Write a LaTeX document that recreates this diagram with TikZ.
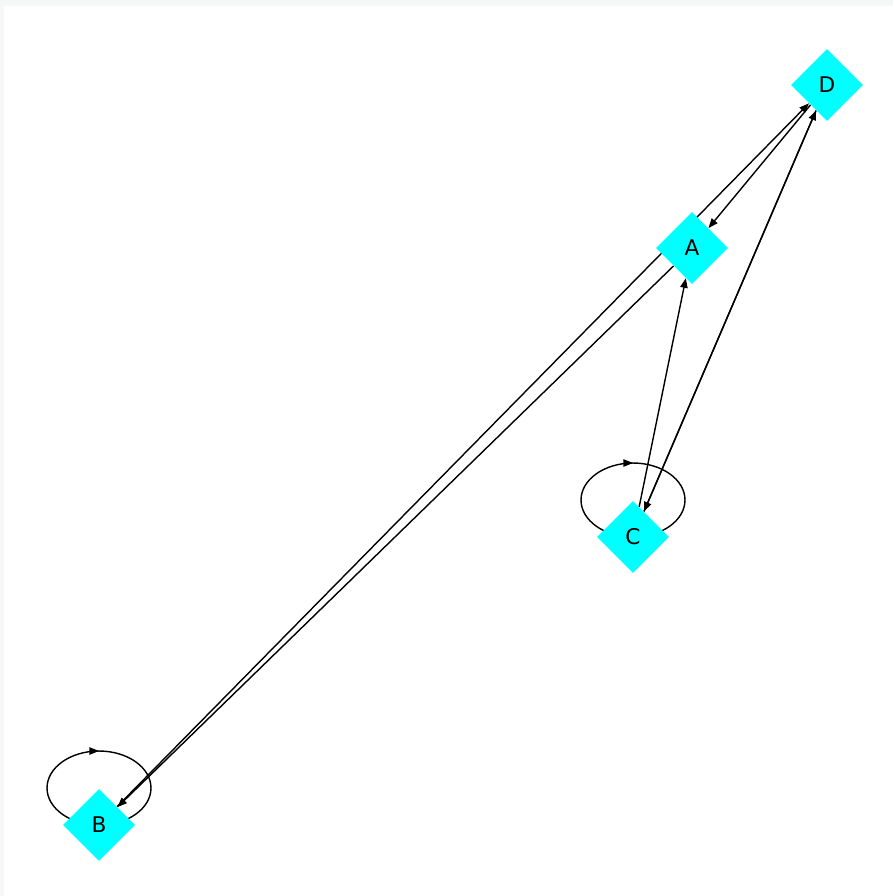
\documentclass[tikz,border=0pt]{standalone}
\usepackage{fontspec}
\setmainfont{DejaVu Sans}
\usepackage{tikz}
\usetikzlibrary{arrows.meta,shapes.geometric,decorations.markings}
\usepackage{xcolor}
\definecolor{vertexcyan}{HTML}{00FFFF}
\definecolor{framegray}{HTML}{F6F8F8}
\pgfdeclarelayer{bg}
\pgfdeclarelayer{edges}
\pgfsetlayers{bg,edges,main}

\begin{document}
\begin{tikzpicture}[
    x=0.02cm, y=-0.02cm,
    vertex/.style={diamond, fill=vertexcyan, minimum size=1.44cm, inner sep=0pt, font=\fontsize{12.3}{14}\selectfont},
    arr/.style={-{Triangle[length=5.5pt,width=4.2pt]}, line width=0.8pt},
    selfloop/.style={line width=0.8pt, postaction={decorate},
        decoration={markings, mark=at position 0.5 with {\arrow{Triangle[length=5.5pt,width=4.2pt]}}}},
]
% Frame
\begin{pgfonlayer}{bg}
\fill[framegray] (0,0) rectangle (893,896);
\fill[white] (4,6) rectangle (893,896);
\end{pgfonlayer}

% Vertices
\node[vertex] (D) at (827,85) {D};
\node[vertex] (A) at (692,248) {A};
\node[vertex] (C) at (633,537) {C};
\node[vertex] (B) at (99,825) {B};

% Edges
\begin{pgfonlayer}{edges}
\draw[arr] (B) -- (D);
\draw[arr] (D) -- (A);
\draw[arr] (A) -- (B);
\draw[arr] (C) -- (A);
\draw[arr] (C) -- (D);
\draw[arr] (D) -- (C);
% Self loops
\draw[selfloop] (C.center) arc[start angle=270, end angle=-90, x radius=1.04cm, y radius=0.74cm];
\draw[selfloop] (B.center) arc[start angle=270, end angle=-90, x radius=1.04cm, y radius=0.74cm];
\end{pgfonlayer}
\end{tikzpicture}
\end{document}
